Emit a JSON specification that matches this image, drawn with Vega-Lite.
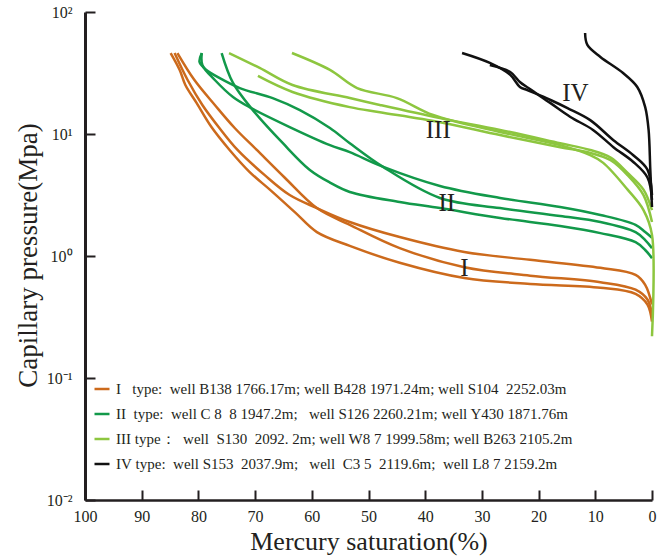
{
  "$schema": "https://vega.github.io/schema/vega-lite/v6.json",
  "width": 567,
  "height": 488,
  "autosize": "none",
  "padding": {"left": 85, "top": 12, "right": 6, "bottom": 57},
  "background": "white",
  "config": {
    "view": {"stroke": null},
    "font": "Liberation Serif",
    "axis": {
      "labelFont": "Liberation Serif",
      "titleFont": "Liberation Serif",
      "titleFontWeight": "normal",
      "labelColor": "#231f20",
      "titleColor": "#231f20",
      "domainColor": "#231f20",
      "tickColor": "#231f20",
      "grid": false,
      "labelFlush": false,
      "labelOverlap": false
    }
  },
  "layer": [
    {
      "data": {
        "values": [
          {"w":"O1","t":"I","i":0,"s":84.2,"p":46.1},{"w":"O1","t":"I","i":1,"s":81.9,"p":27.7},{"w":"O1","t":"I","i":2,"s":79.3,"p":17.3},{"w":"O1","t":"I","i":3,"s":76.3,"p":11.2},{"w":"O1","t":"I","i":4,"s":73.1,"p":7.4},{"w":"O1","t":"I","i":5,"s":68.3,"p":4.6},{"w":"O1","t":"I","i":6,"s":63.9,"p":3.16},{"w":"O1","t":"I","i":7,"s":59.1,"p":2.47},{"w":"O1","t":"I","i":8,"s":53.3,"p":1.9},{"w":"O1","t":"I","i":9,"s":44.5,"p":1.43},{"w":"O1","t":"I","i":10,"s":33.1,"p":1.08},{"w":"O1","t":"I","i":11,"s":21.5,"p":0.93},{"w":"O1","t":"I","i":12,"s":9.1,"p":0.8},{"w":"O1","t":"I","i":13,"s":2.9,"p":0.7},{"w":"O1","t":"I","i":14,"s":1.2,"p":0.58},{"w":"O1","t":"I","i":15,"s":0,"p":0.4},
          {"w":"O2","t":"I","i":0,"s":83.7,"p":46.1},{"w":"O2","t":"I","i":1,"s":80.7,"p":27.7},{"w":"O2","t":"I","i":2,"s":77.1,"p":17.3},{"w":"O2","t":"I","i":3,"s":73.6,"p":11.2},{"w":"O2","t":"I","i":4,"s":69.7,"p":7.4},{"w":"O2","t":"I","i":5,"s":64.8,"p":4.4},{"w":"O2","t":"I","i":6,"s":59.1,"p":2.47},{"w":"O2","t":"I","i":7,"s":53.3,"p":1.8},{"w":"O2","t":"I","i":8,"s":44.5,"p":1.16},{"w":"O2","t":"I","i":9,"s":33.1,"p":0.81},{"w":"O2","t":"I","i":10,"s":21.5,"p":0.69},{"w":"O2","t":"I","i":11,"s":9.1,"p":0.61},{"w":"O2","t":"I","i":12,"s":2.9,"p":0.53},{"w":"O2","t":"I","i":13,"s":0.8,"p":0.44},{"w":"O2","t":"I","i":14,"s":0,"p":0.33},
          {"w":"O3","t":"I","i":0,"s":84.9,"p":46.1},{"w":"O3","t":"I","i":1,"s":83.3,"p":33.5},{"w":"O3","t":"I","i":2,"s":82.3,"p":25.2},{"w":"O3","t":"I","i":3,"s":80.3,"p":17.9},{"w":"O3","t":"I","i":4,"s":77.7,"p":11.4},{"w":"O3","t":"I","i":5,"s":74.5,"p":7.4},{"w":"O3","t":"I","i":6,"s":71.0,"p":4.9},{"w":"O3","t":"I","i":7,"s":67.4,"p":3.5},{"w":"O3","t":"I","i":8,"s":63.0,"p":2.29},{"w":"O3","t":"I","i":9,"s":59.1,"p":1.57},{"w":"O3","t":"I","i":10,"s":53.3,"p":1.21},{"w":"O3","t":"I","i":11,"s":44.5,"p":0.88},{"w":"O3","t":"I","i":12,"s":33.1,"p":0.66},{"w":"O3","t":"I","i":13,"s":21.5,"p":0.59},{"w":"O3","t":"I","i":14,"s":9.1,"p":0.55},{"w":"O3","t":"I","i":15,"s":2.9,"p":0.49},{"w":"O3","t":"I","i":16,"s":0.8,"p":0.4},{"w":"O3","t":"I","i":17,"s":0,"p":0.29},
          {"w":"G1","t":"II","i":0,"s":79.4,"p":46.1},{"w":"G1","t":"II","i":1,"s":79.3,"p":36.8},{"w":"G1","t":"II","i":2,"s":77.1,"p":27.7},{"w":"G1","t":"II","i":3,"s":73.9,"p":20.1},{"w":"G1","t":"II","i":4,"s":71.0,"p":16.6},{"w":"G1","t":"II","i":5,"s":63.9,"p":11.4},{"w":"G1","t":"II","i":6,"s":56.8,"p":8.1},{"w":"G1","t":"II","i":7,"s":53.3,"p":7.1},{"w":"G1","t":"II","i":8,"s":47.5,"p":5.4},{"w":"G1","t":"II","i":9,"s":37.4,"p":3.75},{"w":"G1","t":"II","i":10,"s":26.8,"p":2.99},{"w":"G1","t":"II","i":11,"s":16.2,"p":2.52},{"w":"G1","t":"II","i":12,"s":9.1,"p":2.17},{"w":"G1","t":"II","i":13,"s":2.9,"p":1.8},{"w":"G1","t":"II","i":14,"s":1.2,"p":1.57},{"w":"G1","t":"II","i":15,"s":0,"p":1.41},
          {"w":"G2","t":"II","i":0,"s":79.4,"p":46.1},{"w":"G2","t":"II","i":1,"s":79.8,"p":38.9},{"w":"G2","t":"II","i":2,"s":78.6,"p":33.5},{"w":"G2","t":"II","i":3,"s":76.3,"p":28.8},{"w":"G2","t":"II","i":4,"s":72.7,"p":23.8},{"w":"G2","t":"II","i":5,"s":66.9,"p":19.7},{"w":"G2","t":"II","i":6,"s":62.1,"p":15.7},{"w":"G2","t":"II","i":7,"s":56.8,"p":11.2},{"w":"G2","t":"II","i":8,"s":53.3,"p":8.4},{"w":"G2","t":"II","i":9,"s":47.5,"p":5.4},{"w":"G2","t":"II","i":10,"s":37.4,"p":2.99},{"w":"G2","t":"II","i":11,"s":26.8,"p":2.47},{"w":"G2","t":"II","i":12,"s":16.2,"p":2.13},{"w":"G2","t":"II","i":13,"s":9.1,"p":1.9},{"w":"G2","t":"II","i":14,"s":2.9,"p":1.57},{"w":"G2","t":"II","i":15,"s":1.2,"p":1.35},{"w":"G2","t":"II","i":16,"s":0,"p":1.16},
          {"w":"G3","t":"II","i":0,"s":75.9,"p":46.1},{"w":"G3","t":"II","i":1,"s":73.9,"p":26.2},{"w":"G3","t":"II","i":2,"s":70.4,"p":15.7},{"w":"G3","t":"II","i":3,"s":65.1,"p":8.4},{"w":"G3","t":"II","i":4,"s":60.4,"p":5.1},{"w":"G3","t":"II","i":5,"s":56.8,"p":4.0},{"w":"G3","t":"II","i":6,"s":53.3,"p":3.35},{"w":"G3","t":"II","i":7,"s":44.5,"p":2.77},{"w":"G3","t":"II","i":8,"s":37.4,"p":2.47},{"w":"G3","t":"II","i":9,"s":26.8,"p":2.05},{"w":"G3","t":"II","i":10,"s":16.2,"p":1.76},{"w":"G3","t":"II","i":11,"s":9.1,"p":1.54},{"w":"G3","t":"II","i":12,"s":2.9,"p":1.3},{"w":"G3","t":"II","i":13,"s":1.2,"p":1.12},{"w":"G3","t":"II","i":14,"s":0,"p":0.96},
          {"w":"L1","t":"III","i":0,"s":74.6,"p":46.1},{"w":"L1","t":"III","i":1,"s":69.2,"p":34.8},{"w":"L1","t":"III","i":2,"s":63.4,"p":25.2},{"w":"L1","t":"III","i":3,"s":53.3,"p":19.7},{"w":"L1","t":"III","i":4,"s":48.0,"p":17.3},{"w":"L1","t":"III","i":5,"s":37.4,"p":13.5},{"w":"L1","t":"III","i":6,"s":26.8,"p":10.8},{"w":"L1","t":"III","i":7,"s":16.2,"p":8.4},{"w":"L1","t":"III","i":8,"s":10.9,"p":7.4},{"w":"L1","t":"III","i":9,"s":7.3,"p":6.4},{"w":"L1","t":"III","i":10,"s":4.3,"p":4.8},{"w":"L1","t":"III","i":11,"s":1.5,"p":3.5},{"w":"L1","t":"III","i":12,"s":0,"p":2.38},
          {"w":"L2","t":"III","i":0,"s":69.5,"p":29.9},{"w":"L2","t":"III","i":1,"s":63.4,"p":22.1},{"w":"L2","t":"III","i":2,"s":53.3,"p":16.6},{"w":"L2","t":"III","i":3,"s":48.0,"p":15.1},{"w":"L2","t":"III","i":4,"s":37.4,"p":12.5},{"w":"L2","t":"III","i":5,"s":26.8,"p":9.8},{"w":"L2","t":"III","i":6,"s":16.2,"p":7.8},{"w":"L2","t":"III","i":7,"s":10.9,"p":7.0},{"w":"L2","t":"III","i":8,"s":7.3,"p":6.1},{"w":"L2","t":"III","i":9,"s":4.3,"p":4.6},{"w":"L2","t":"III","i":10,"s":1.5,"p":3.16},{"w":"L2","t":"III","i":11,"s":0,"p":1.9},
          {"w":"L3","t":"III","i":0,"s":63.5,"p":46.1},{"w":"L3","t":"III","i":1,"s":56.8,"p":33.5},{"w":"L3","t":"III","i":2,"s":52.0,"p":23.8},{"w":"L3","t":"III","i":3,"s":45.0,"p":19.7},{"w":"L3","t":"III","i":4,"s":38.6,"p":14.3},{"w":"L3","t":"III","i":5,"s":26.8,"p":10.4},{"w":"L3","t":"III","i":6,"s":16.2,"p":8.1},{"w":"L3","t":"III","i":7,"s":10.9,"p":6.7},{"w":"L3","t":"III","i":8,"s":8.6,"p":5.8},{"w":"L3","t":"III","i":9,"s":4.3,"p":3.5},{"w":"L3","t":"III","i":10,"s":1.5,"p":2.38},{"w":"L3","t":"III","i":11,"s":0,"p":1.49},{"w":"L3","t":"III","i":12,"s":0,"p":0.22},
          {"w":"B1","t":"IV","i":0,"s":33.5,"p":46.1},{"w":"B1","t":"IV","i":1,"s":28.6,"p":38.2},{"w":"B1","t":"IV","i":2,"s":25.0,"p":30.5},{"w":"B1","t":"IV","i":3,"s":23.3,"p":24.3},{"w":"B1","t":"IV","i":4,"s":22.0,"p":22.9},{"w":"B1","t":"IV","i":5,"s":17.9,"p":19.0},{"w":"B1","t":"IV","i":6,"s":14.9,"p":16.3},{"w":"B1","t":"IV","i":7,"s":10.9,"p":13.0},{"w":"B1","t":"IV","i":8,"s":6.8,"p":8.9},{"w":"B1","t":"IV","i":9,"s":3.3,"p":6.7},{"w":"B1","t":"IV","i":10,"s":0.8,"p":5.1},{"w":"B1","t":"IV","i":11,"s":0,"p":3.16},
          {"w":"B2","t":"IV","i":0,"s":28.6,"p":36.8},{"w":"B2","t":"IV","i":1,"s":25.0,"p":32.2},{"w":"B2","t":"IV","i":2,"s":23.3,"p":26.7},{"w":"B2","t":"IV","i":3,"s":21.8,"p":23.8},{"w":"B2","t":"IV","i":4,"s":17.9,"p":17.9},{"w":"B2","t":"IV","i":5,"s":14.4,"p":13.8},{"w":"B2","t":"IV","i":6,"s":10.4,"p":10.8},{"w":"B2","t":"IV","i":7,"s":6.8,"p":7.8},{"w":"B2","t":"IV","i":8,"s":3.3,"p":5.9},{"w":"B2","t":"IV","i":9,"s":0.8,"p":4.4},{"w":"B2","t":"IV","i":10,"s":0,"p":2.88},
          {"w":"B3","t":"IV","i":0,"s":11.8,"p":67.3},{"w":"B3","t":"IV","i":1,"s":11.4,"p":53.7},{"w":"B3","t":"IV","i":2,"s":9.1,"p":42.8},{"w":"B3","t":"IV","i":3,"s":5.1,"p":31.6},{"w":"B3","t":"IV","i":4,"s":2.6,"p":24.3},{"w":"B3","t":"IV","i":5,"s":1.2,"p":16.6},{"w":"B3","t":"IV","i":6,"s":0.6,"p":10.8},{"w":"B3","t":"IV","i":7,"s":0.3,"p":5.1},{"w":"B3","t":"IV","i":8,"s":0,"p":2.52}
        ]
      },
      "mark": {"type": "line", "strokeWidth": 2.5, "interpolate": "catmull-rom"},
      "encoding": {
        "x": {
          "field": "s", "type": "quantitative",
          "scale": {"domain": [0, 100], "reverse": true, "nice": false, "zero": false},
          "axis": {
            "values": [0, 10, 20, 30, 40, 50, 60, 70, 80, 90, 100],
            "labelFontSize": 16,
            "tickSize": -10,
            "tickWidth": 2,
            "domainWidth": 2.5,
            "labelPadding": 18,
            "title": "Mercury saturation(%)",
            "titleFontSize": 26,
            "titleY": 49,
            "titleBaseline": "alphabetic"
          }
        },
        "y": {
          "field": "p", "type": "quantitative",
          "scale": {"type": "log", "domain": [0.01, 100], "nice": false},
          "axis": {
            "values": [0.01, 0.1, 1, 10, 100],
            "labelExpr": "datum.value >= 99 ? '10²' : datum.value >= 9 ? '10¹' : datum.value >= 0.9 ? '10⁰' : datum.value >= 0.09 ? '10⁻¹' : '10⁻²'",
            "labelFontSize": 16,
            "tickSize": -10,
            "tickWidth": 2,
            "domainWidth": 3,
            "labelPadding": 23,
            "title": "Capillary pressure(Mpa)",
            "titleFontSize": 27,
            "titleAngle": -90,
            "titleX": -49,
            "titleY": 243,
            "titleAlign": "center",
            "titleBaseline": "alphabetic"
          }
        },
        "color": {
          "field": "t", "type": "nominal",
          "scale": {"domain": ["I", "II", "III", "IV"], "range": ["#cc6a1c", "#12994a", "#8dc63f", "#111111"]},
          "legend": {
            "orient": "none",
            "legendX": 8,
            "legendY": 368,
            "title": null,
            "padding": 0,
            "symbolType": "stroke",
            "symbolSize": 225,
            "symbolStrokeWidth": 2.5,
            "labelOffset": 5,
            "labelFont": "Liberation Serif",
            "labelFontSize": 15,
            "labelColor": "#231f20",
            "labelLimit": 0,
            "rowPadding": 8,
            "labelExpr": "datum.label == 'I' ? 'I\u00a0\u00a0\u00a0type:\u00a0\u00a0well B138 1766.17m; well B428 1971.24m; well S104\u00a0\u00a02252.03m' : datum.label == 'II' ? 'II\u00a0\u00a0type:\u00a0\u00a0well C 8\u00a0\u00a08 1947.2m;\u00a0\u00a0\u00a0well S126 2260.21m; well Y430 1871.76m' : datum.label == 'III' ? 'III\u00a0type：\u00a0\u00a0well\u00a0\u00a0S130\u00a0\u00a02092. 2m; well W8 7 1999.58m; well B263 2105.2m' : 'IV\u00a0type:\u00a0\u00a0well S153\u00a0\u00a02037.9m;\u00a0\u00a0\u00a0well\u00a0\u00a0C3 5\u00a0\u00a02119.6m;\u00a0\u00a0well L8 7 2159.2m'"
          }
        },
        "detail": {"field": "w"},
        "order": {"field": "i"}
      }
    },
    {
      "data": {
        "values": [
          {"s": 13.5, "p": 21.7, "lab": "IV"},
          {"s": 37.7, "p": 10.8, "lab": "III"},
          {"s": 36.2, "p": 2.72, "lab": "II"},
          {"s": 33.1, "p": 0.8, "lab": "I"}
        ]
      },
      "mark": {"type": "text", "font": "Liberation Serif", "fontSize": 25, "color": "#231f20", "baseline": "middle", "align": "center"},
      "encoding": {
        "x": {"field": "s", "type": "quantitative"},
        "y": {"field": "p", "type": "quantitative"},
        "text": {"field": "lab"}
      }
    }
  ]
}
